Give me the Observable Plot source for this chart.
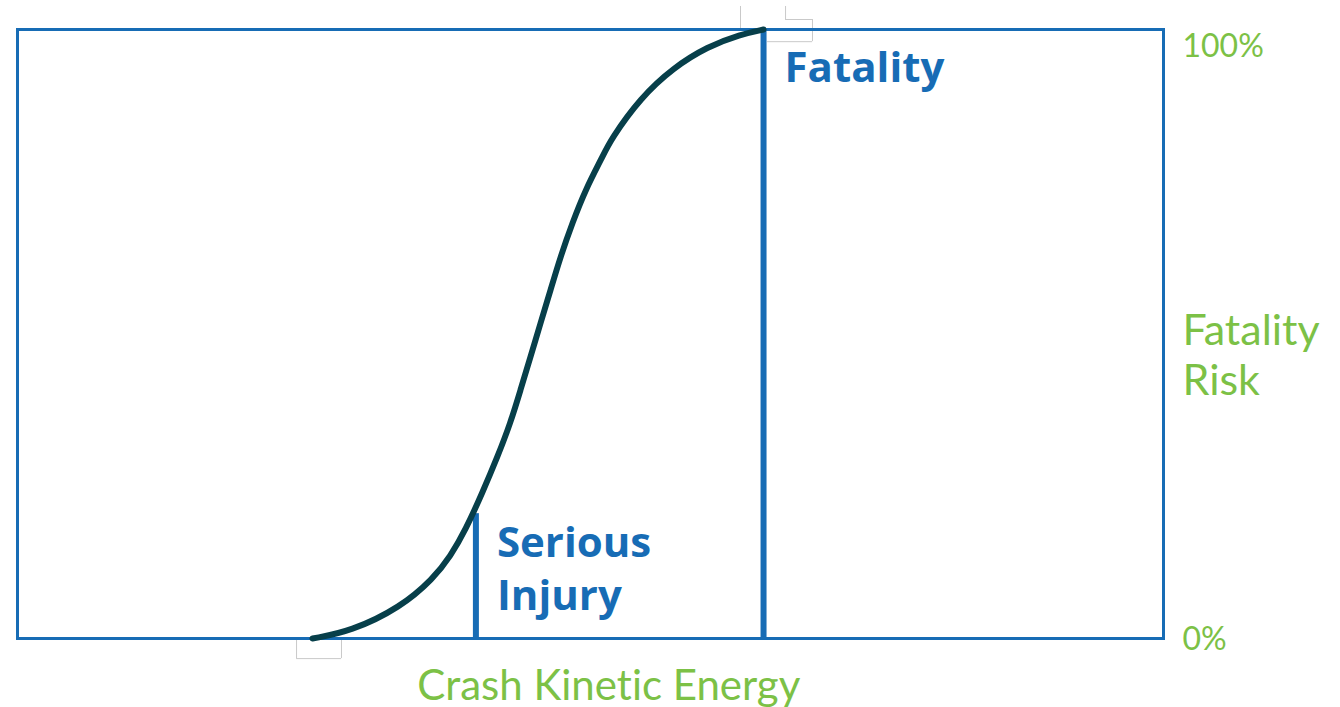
<!DOCTYPE html>
<html>
<head>
<meta charset="utf-8">
<script src="https://cdn.jsdelivr.net/npm/d3@7"></script>
<script src="https://cdn.jsdelivr.net/npm/@observablehq/plot@0.6"></script>
<style>
  html, body { margin: 0; padding: 0; background: #ffffff; }
  #chart svg { display: block; }
  #chart text { font-variant-ligatures: none; font-feature-settings: "liga" 0, "clig" 0; }
</style>
</head>
<body>
<div id="chart"></div>
<script>
// Crash kinetic energy (arbitrary units 0–100) vs fatality risk (0–1)
const energy = [25.74, 29.06, 33.42, 36.30, 37.78, 39.09, 40.58, 41.88, 43.02, 43.89, 44.76, 45.64, 46.51, 47.38, 48.43, 49.56, 51.05, 51.75, 54.36, 57.24, 60.21, 63.09, 65.10];
const risk   = [0.000, 0.0115, 0.051, 0.0987, 0.135, 0.178, 0.240, 0.298, 0.354, 0.408, 0.462, 0.518, 0.572, 0.627, 0.683, 0.737, 0.791, 0.819, 0.888, 0.9375, 0.972, 0.992, 1.000];

// Threshold markers
const thresholdNames  = ["Serious\nInjury", "Fatality"];
const thresholdEnergy = [40.0, 65.1];
const thresholdRisk   = [0.205, 1.0];

// Right-hand tick labels
const riskTickValues = [1, 0];
const riskTickLabels = ["100%", "0%"];

const xTitle = "Crash Kinetic Energy";
const yTitle = "Fatality\nRisk";

// Faint selection-handle boxes visible in the original image (data units)
const handleX1 = [24.35, 63.09, 65.45];
const handleX2 = [28.27, 67.02, 69.37];
const handleY1 = [-0.033, 1.0016, 0.980];
const handleY2 = [0.0, 1.0378, 1.0164];

const curve = energy.map((e, i) => ({energy: e, risk: risk[i]}));
const thresholds = thresholdNames.map((n, i) => ({name: n, energy: thresholdEnergy[i], risk: thresholdRisk[i]}));
const ticks = riskTickValues.map((v, i) => ({value: v, label: riskTickLabels[i]}));
const handles = handleX1.map((x, i) => ({x1: x, x2: handleX2[i], y1: handleY1[i], y2: handleY2[i]}));

const BLUE = "#176cb5";
const GREEN = "#7cc146";
const CURVE = "#073f4a";
const GRAY = "#c9c9c9";

const chart = Plot.plot({
  width: 1340,
  height: 707,
  marginLeft: 17,
  marginRight: 177,
  marginTop: 29,
  marginBottom: 69,
  x: {domain: [0, 100], axis: null},
  y: {domain: [0, 1], axis: null},
  style: {background: "#ffffff", overflow: "visible"},
  marks: [
    // faint handle boxes
    Plot.ruleX([handles[0]], {x: "x1", y1: "y1", y2: "y2", stroke: GRAY, strokeWidth: 1}),
    Plot.ruleX([handles[0]], {x: "x2", y1: "y1", y2: "y2", stroke: GRAY, strokeWidth: 1}),
    Plot.ruleY([handles[0]], {y: "y1", x1: "x1", x2: "x2", stroke: GRAY, strokeWidth: 1}),
    Plot.ruleX([handles[1]], {x: "x1", y1: "y1", y2: "y2", stroke: GRAY, strokeWidth: 1}),
    Plot.ruleX([handles[1]], {x: "x2", y1: handles[2].y2, y2: "y2", stroke: GRAY, strokeWidth: 1}),
    Plot.ruleY([handles[2]], {y: "y1", x1: "x1", x2: "x2", stroke: GRAY, strokeWidth: 1}),
    Plot.ruleY([handles[2]], {y: "y2", x1: handles[1].x2, x2: "x2", stroke: GRAY, strokeWidth: 1}),
    Plot.ruleX([handles[2]], {x: "x2", y1: "y1", y2: "y2", stroke: GRAY, strokeWidth: 1}),
    Plot.frame({stroke: BLUE, strokeWidth: 3}),
    Plot.ruleX(thresholds, {x: "energy", y1: 0, y2: "risk", stroke: BLUE, strokeWidth: 6}),
    Plot.line(curve, {x: "energy", y: "risk", stroke: CURVE, strokeWidth: 6, curve: "basis"}),
    // threshold labels
    Plot.text([thresholds[1]], {x: "energy", y: "risk", text: "name", textAnchor: "start", lineAnchor: "top",
      dx: 21, dy: 23, fill: BLUE, fontSize: 42, fontWeight: "bold", fontFamily: "Open Sans"}),
    Plot.text([thresholds[0]], {x: "energy", y: "risk", text: "name", textAnchor: "start", lineAnchor: "top",
      dx: 21, dy: 6, lineHeight: 1.26, fill: BLUE, fontSize: 42, fontWeight: "bold", fontFamily: "Open Sans"}),
    // right tick labels
    Plot.text([ticks[0]], {x: 100, y: "value", text: "label", textAnchor: "start", dx: 19, dy: 17,
      fill: GREEN, fontSize: 32, fontFamily: "Lato"}),
    Plot.text([ticks[1]], {x: 100, y: "value", text: "label", textAnchor: "start", dx: 19, dy: 1,
      fill: GREEN, fontSize: 32, fontFamily: "Lato"}),
    // y title
    Plot.text([yTitle], {x: 100, y: 0.5, text: d => d, textAnchor: "start", lineAnchor: "top", dx: 19, dy: -25,
      lineHeight: 1.17, fill: GREEN, fontSize: 43, fontFamily: "Lato"}),
    // x title
    Plot.text([xTitle], {x: 51.6, frameAnchor: "bottom", text: d => d, lineAnchor: "top", dy: 32,
      fill: GREEN, fontSize: 42, fontFamily: "Lato"})
  ]
});
document.getElementById("chart").appendChild(chart);
</script>
</body>
</html>
